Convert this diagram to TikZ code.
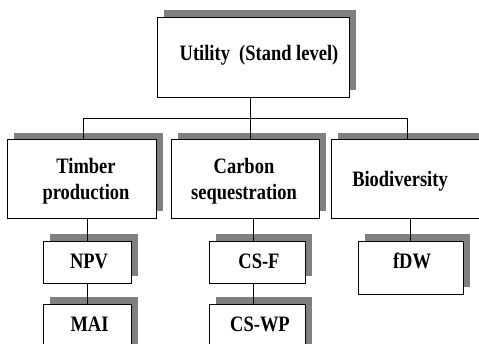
\documentclass[tikz,border=0pt]{standalone}
\usepackage{fontspec}
\setmainfont{Liberation Serif}[FakeStretch=0.84]
\usetikzlibrary{shadows}
\begin{document}
\begin{tikzpicture}[x=1pt,y=-1pt,
  box/.style={draw, fill=white, line width=0.9pt, inner sep=0pt, anchor=north west,
    drop shadow={shadow xshift=7pt, shadow yshift=7pt, fill=gray, opacity=1}},
  lbl/.style={inner sep=0pt, align=center, font=\bfseries\fontsize{22}{26}\selectfont},
  conn/.style={line width=0.9pt}]
\useasboundingbox (0,0) rectangle (479,344);
% boxes
\node[box, minimum width=192pt, minimum height=80pt] (util) at (157,17) {};
\node[box, minimum width=149pt, minimum height=78.5pt] (tim) at (7,139.5) {};
\node[box, minimum width=148pt, minimum height=78.5pt] (carb) at (171,139.5) {};
\node[box, minimum width=160pt, minimum height=78.5pt] (bio) at (331,139.5) {};
\node[box, minimum width=88pt, minimum height=42pt] (npv) at (43,241) {};
\node[box, minimum width=88pt, minimum height=56pt] (mai) at (43,304) {};
\node[box, minimum width=96pt, minimum height=42pt] (csf) at (209,241) {};
\node[box, minimum width=96pt, minimum height=56pt] (cswp) at (209,304) {};
\node[box, minimum width=105pt, minimum height=53pt] (fdw) at (358,241) {};
% texts
\node[lbl, anchor=base] (tutil) at (259,61) {Utility\ \ (Stand level)};
\node[lbl, anchor=center] (ttim) at (86,181) {Timber\\production};
\node[lbl, anchor=center] (tcarb) at (244,181) {Carbon\\sequestration};
\node[lbl, anchor=base] (tbio) at (400,187) {Biodiversity};
\node[lbl, anchor=base] (tnpv) at (89,269) {NPV};
\node[lbl, anchor=base] (tcsf) at (259,269) {CS-F};
\node[lbl, anchor=base] (tfdw) at (412,269) {fDW};
\node[lbl, anchor=base] (tmai) at (89.5,332) {MAI};
\node[lbl, anchor=base] (tcswp) at (260,332) {CS-WP};
% connectors
\coordinate (busL) at (83,118);
\coordinate (busM) at (250,118);
\coordinate (busR) at (407,118);
\draw[conn] (busL) -- (busR);
\draw[conn] (util.south -| busM) -- (busM);
\draw[conn] (busL) -- (tim.north -| busL);
\draw[conn] (busM) -- (carb.north -| busM);
\draw[conn] (busR) -- (bio.north -| busR);
\coordinate (xT) at (87,0);
\coordinate (xC) at (253,0);
\coordinate (xB) at (410,0);
\draw[conn] (tim.south -| xT) -- (npv.north -| xT);
\draw[conn] (npv.south -| xT) -- (mai.north -| xT);
\draw[conn] (carb.south -| xC) -- (csf.north -| xC);
\draw[conn] (csf.south -| xC) -- (cswp.north -| xC);
\draw[conn] (bio.south -| xB) -- (fdw.north -| xB);
\end{tikzpicture}
\end{document}
